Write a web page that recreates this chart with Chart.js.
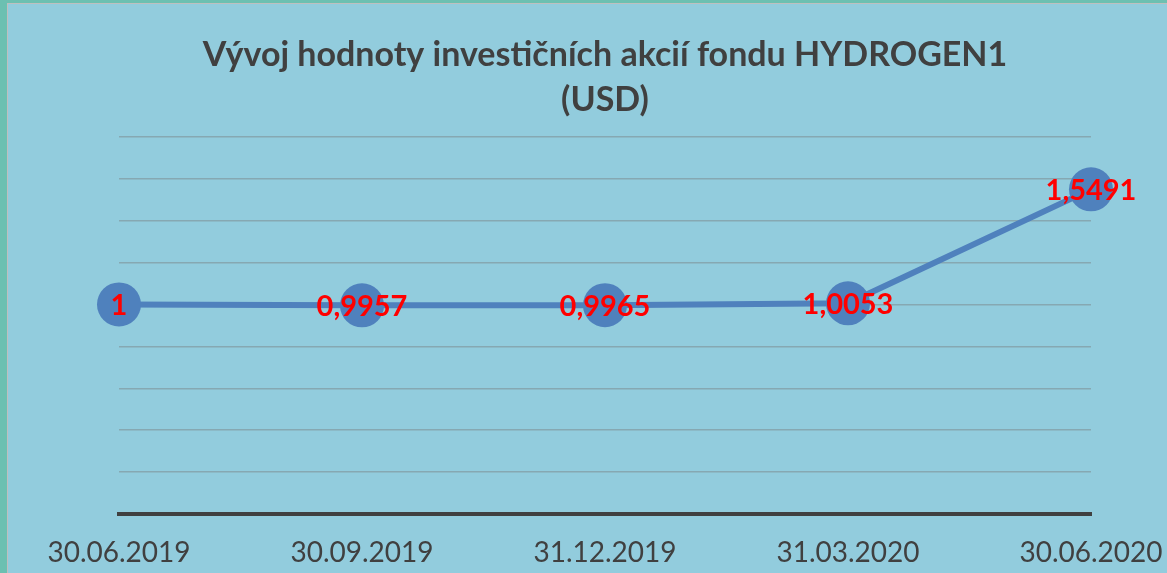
<!DOCTYPE html>
<html>
<head>
<meta charset="utf-8">
<script src="https://cdn.jsdelivr.net/npm/chart.js@4.4.0/dist/chart.umd.min.js"></script>
<style>
  body { margin: 0; background: #6cc0b1; width: 1167px; height: 573px; overflow: hidden; }
  #ramecek { position: absolute; left: 7px; top: 3px; width: 1160px; height: 570px;
             background: #92ccdd; border-left: 1px solid #bfbfbf; border-top: 1px solid #bfbfbf; }
  #graf { position: absolute; left: 0; top: 0; }
</style>
</head>
<body>
<div id="ramecek"></div>
<canvas id="graf" width="1167" height="573"></canvas>
<script>
// data z grafu
const datumy = ['30.06.2019', '30.09.2019', '31.12.2019', '31.03.2020', '30.06.2020'];
const hodnoty = [1, 0.9957, 0.9965, 1.0053, 1.5491];
const nadpis = ['Vývoj hodnoty investičních akcií fondu HYDROGEN1', '(USD)'];
const osaMin = 0, osaMax = 1.8, osaKrok = 0.2;

// popisky hodnot (cervene, na stredu bodu)
const popisky = {
  id: 'popisky',
  afterDatasetsDraw(chart) {
    const ctx = chart.ctx;
    const meta = chart.getDatasetMeta(0);
    ctx.save();
    ctx.font = 'bold 29px Lato';
    ctx.fillStyle = '#ff0000';
    ctx.textAlign = 'center';
    ctx.textBaseline = 'middle';
    meta.data.forEach((bod, i) => {
      ctx.fillText(String(hodnoty[i]).replace('.', ','), bod.x, bod.y + 1);
    });
    ctx.restore();
  }
};

const config = {
  type: 'line',
  data: {
    labels: datumy,
    datasets: [{
      data: hodnoty,
      borderColor: '#4f81bd',
      backgroundColor: '#4f81bd',
      borderWidth: 6,
      tension: 0,
      pointRadius: 22,
      pointHoverRadius: 22,
      pointBorderWidth: 0,
      pointBackgroundColor: '#4f81bd',
      clip: false
    }]
  },
  options: {
    responsive: false,
    animation: false,
    layout: { padding: { left: 119, right: 76, top: 0, bottom: 0 } },
    plugins: {
      legend: { display: false },
      tooltip: { enabled: false },
      title: {
        display: true,
        text: nadpis,
        color: '#404040',
        font: { family: 'Lato', size: 34, weight: 'bold', lineHeight: 1.32 },
        padding: { top: 33, bottom: 14 }
      }
    },
    scales: {
      x: {
        offset: false,
        grid: { display: false, drawTicks: false },
        border: { display: true, color: '#404040', width: 4 },
        ticks: {
          color: '#404040',
          font: { family: 'Lato', size: 28 },
          padding: 22,
          maxRotation: 0,
          autoSkip: false
        },
        afterFit(scale) {
          // osa x: pevna vyska, popisky smi presahovat
          scale.height = 59;
          scale.paddingLeft = 0;
          scale.paddingRight = 0;
        }
      },
      y: {
        min: osaMin,
        max: osaMax,
        ticks: { display: false, stepSize: osaKrok },
        grid: { color: '#86a8b2', lineWidth: 1.5, drawTicks: false },
        border: { display: false }
      }
    }
  },
  plugins: [popisky]
};

const myChart = new Chart(document.getElementById('graf'), config);
</script>
</body>
</html>
